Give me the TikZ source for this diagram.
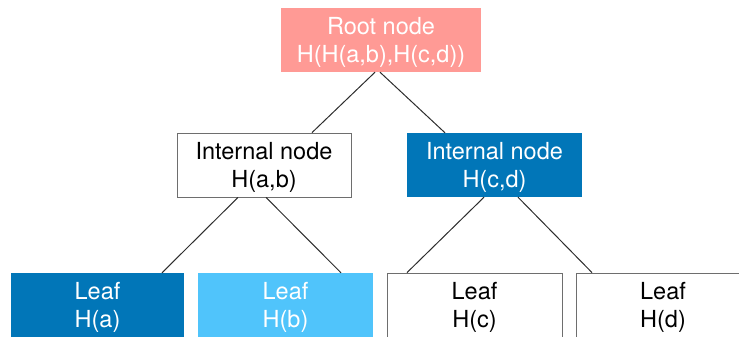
\documentclass[tikz,border=0pt]{standalone}
\usepackage{fontspec}
\setmainfont{TeX Gyre Heros}
\definecolor{rootfill}{RGB}{255,154,149}
\definecolor{darkblue}{RGB}{1,118,184}
\definecolor{lightblue}{RGB}{80,196,251}
\definecolor{edgegray}{RGB}{110,110,110}
\definecolor{linkgray}{RGB}{45,45,45}
\tikzset{
  hbox/.style={rectangle, inner sep=0pt, minimum height=64pt},
  plainbox/.style={hbox, draw=edgegray, line width=0.8pt, fill=white},
  rootbox/.style={hbox, fill=rootfill},
  darkbox/.style={hbox, fill=darkblue},
  lightbox/.style={hbox, fill=lightblue},
  txt/.style={inner sep=0pt, align=center, font=\fontsize{23.5}{28}\selectfont},
  link/.style={draw=linkgray, line width=1pt}
}
\begin{document}
\begin{tikzpicture}[x=1pt, y=-1pt]
  \useasboundingbox (0,0) rectangle (739,337);
  \clip (0,0) rectangle (739,337);
  % boxes
  \node[rootbox, minimum width=200pt] (root) at (381,40) {};
  \node[plainbox, minimum width=174pt] (il) at (264,165) {};
  \node[darkbox, minimum width=175pt] (ir) at (494.5,165) {};
  \node[darkbox, minimum width=173pt] (la) at (97.5,305) {};
  \node[lightbox, minimum width=175pt] (lb) at (285.5,305) {};
  \node[plainbox, minimum width=175pt] (lc) at (474.5,305) {};
  \node[plainbox, minimum width=174pt] (ld) at (663,305) {};
  % labels
  \node[txt, text=white] (roott) at ([yshift=-2.5pt]root.center) {Root node\\H(H(a,b),H(c,d))};
  \node[txt] (ilt) at ([yshift=-2.5pt]il.center) {Internal node\\H(a,b)};
  \node[txt, text=white] (irt) at ([yshift=-2.5pt]ir.center) {Internal node\\H(c,d)};
  \node[txt, text=white] (lat) at ([yshift=-2.5pt]la.center) {Leaf\\H(a)};
  \node[txt, text=white] (lbt) at ([yshift=-2.5pt]lb.center) {Leaf\\H(b)};
  \node[txt] (lct) at ([yshift=-2.5pt]lc.center) {Leaf\\H(c)};
  \node[txt] (ldt) at ([yshift=-2.5pt]ld.center) {Leaf\\H(d)};
  % links
  \draw[link] ([xshift=-6pt]root.south) -- ([xshift=48pt]il.north);
  \draw[link] ([xshift=-1pt]root.south) -- ([xshift=-49.5pt]ir.north);
  \draw[link] ([xshift=-26pt]il.south) -- ([xshift=64.5pt]la.north);
  \draw[link] ([xshift=2pt]il.south) -- ([xshift=55.5pt]lb.north);
  \draw[link] ([xshift=-10.5pt]ir.south) -- ([xshift=-67.5pt]lc.north);
  \draw[link] ([xshift=23.5pt]ir.south) -- ([xshift=-71pt]ld.north);
\end{tikzpicture}
\end{document}
